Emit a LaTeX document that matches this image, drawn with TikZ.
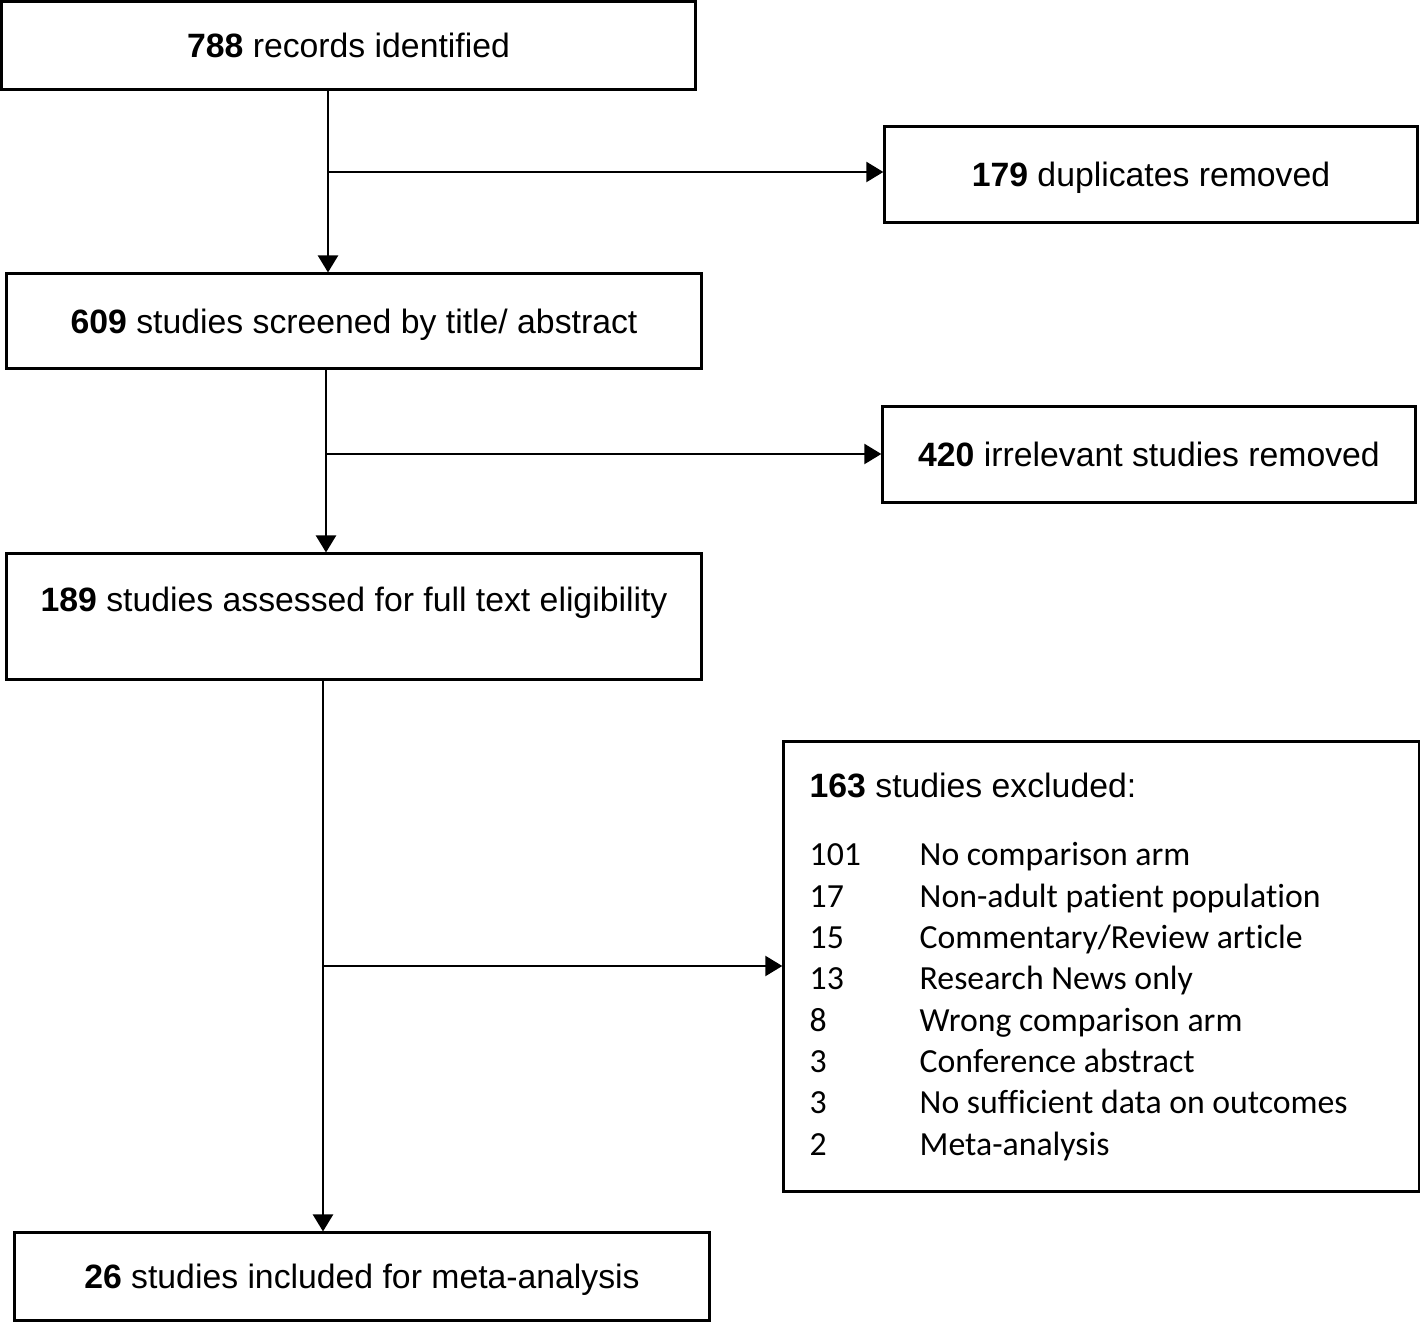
\documentclass[tikz,border=0pt]{standalone}
\usepackage{fontspec}
\setmainfont{Liberation Sans}
\newfontfamily\calib[Ligatures=NoCommon]{Carlito}
\usetikzlibrary{arrows.meta}

\tikzset{
  box/.style={draw,line width=0.85pt,inner sep=0pt,text height=6.9pt,text depth=0pt,
    font=\fontsize{9.6}{11.5}\selectfont},
  arr/.style={line width=0.65pt,-{Triangle[length=0.17cm,width=0.2cm]}},
  item/.style={anchor=base west,inner sep=0pt,font=\calib\fontsize{9.6}{11.5}\selectfont}
}

\begin{document}
\begin{tikzpicture}[x=0.01cm,y=-0.01cm,color=black]
\useasboundingbox (0,0) rectangle (1420,1322);

\node (rec) at (348.5,45.5)[box,minimum width=6.93cm,minimum height=0.87cm]{\textbf{788} records identified};

\node (dup) at (1151,174.5)[box,minimum width=5.32cm,minimum height=0.95cm]{\textbf{179} duplicates removed};

\node (scr) at (354,321)[box,minimum width=6.94cm,minimum height=0.94cm]{\textbf{609} studies screened by title/ abstract};

\node (irr) at (1149,454.5)[box,minimum width=5.32cm,minimum height=0.95cm]{\textbf{420} irrelevant studies removed};

% text sits in the upper part of this one
\node (full) at (354,616.5)[box,text depth=10pt,minimum width=6.94cm,minimum height=1.25cm]{\textbf{189} studies assessed for full text eligibility};

\node (excl) at (1101.5,966.5)[box,minimum width=6.35cm,minimum height=4.49cm]{};

\node (incl) at (362,1276.5)[box,minimum width=6.94cm,minimum height=0.87cm]{\textbf{26} studies included for meta-analysis};

\node (extitle) at (809,798)[anchor=base west,inner sep=0pt,font=\fontsize{9.6}{11.5}\selectfont]{\textbf{163} studies excluded:};

\foreach \n/\why [count=\i] in {101/No comparison arm,17/Non-adult patient population,15/Commentary\slash Review article,13/Research News only,8/Wrong comparison arm,3/Conference abstract,3/No sufficient data on outcomes,2/Meta-analysis}
{
\node (exn\i) at (809,{824.7+41.3*\i})[item]{\n};
\node (exr\i) at (919,{824.7+41.3*\i})[item]{\why};
}

\coordinate (j1) at (328,172);
\coordinate (j2) at (326,454);
\coordinate (j3) at (323,966);

\draw[arr] (rec.south -| j1) -- (scr.north -| j1);
\draw[arr] (j1) -- (j1 -| dup.west);

\draw[arr] (scr.south -| j2) -- (full.north -| j2);
\draw[arr] (j2) -- (j2 -| irr.west);

\draw[arr] (full.south -| j3) -- (incl.north -| j3);
\draw[arr] (j3) -- (j3 -| excl.west);

\end{tikzpicture}
\end{document}
